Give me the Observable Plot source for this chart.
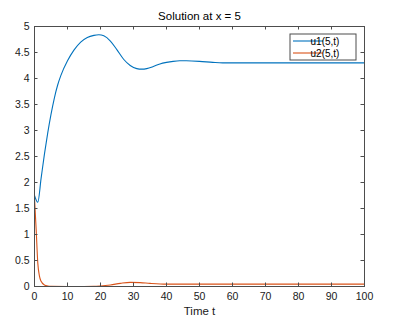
<!DOCTYPE html>
<html>
<head>
<meta charset="utf-8">
<script src="https://cdn.jsdelivr.net/npm/d3@7"></script>
<script src="https://cdn.jsdelivr.net/npm/@observablehq/plot@0.6"></script>
<style>
  html, body { margin: 0; padding: 0; background: #fff; }
  #chart { position: relative; width: 403px; height: 326px; }
</style>
</head>
<body>
<div id="chart"></div>
<script>
const tU1 = [0, 1, 2, 3, 4, 5, 6, 7, 8, 10, 12, 14, 16, 18, 19.5, 21, 23, 25, 27, 29, 31, 32.5, 34, 36, 38, 40, 42, 44, 46, 50, 54, 57, 60, 70, 80, 90, 100];
const u1 = [1.75, 1.62, 2.08, 2.54, 2.95, 3.31, 3.62, 3.87, 4.06, 4.34, 4.55, 4.7, 4.79, 4.83, 4.84, 4.82, 4.72, 4.55, 4.37, 4.25, 4.19, 4.18, 4.19, 4.23, 4.28, 4.31, 4.33, 4.34, 4.34, 4.33, 4.31, 4.3, 4.3, 4.3, 4.3, 4.3, 4.3];
const tU2 = [0, 0.5, 1, 1.5, 2, 3, 4, 5, 10, 15, 18, 20, 23, 26, 29, 32, 35, 40, 45, 50, 60, 70, 80, 90, 100];
const u2 = [1.7, 1.1, 0.45, 0.2, 0.1, 0.03, 0.01, 0.002, 0, 0, 0.002, 0.01, 0.03, 0.06, 0.08, 0.075, 0.06, 0.045, 0.045, 0.045, 0.045, 0.045, 0.045, 0.045, 0.045];
const xTicks = [0, 10, 20, 30, 40, 50, 60, 70, 80, 90, 100];
const yTicks = [0, 0.5, 1, 1.5, 2, 2.5, 3, 3.5, 4, 4.5, 5];
const seriesNames = ["u1(5,t)", "u2(5,t)"];
const colors = ["#0072BD", "#D95319"];
const titleText = "Solution at x = 5";
const xLabel = "Time t";

const W = 403, H = 326;
const mL = 34, mR = 39, mT = 26, mB = 40;
const innerW = W - mL - mR, innerH = H - mT - mB;
const tick = 3.5;
const axisColor = "#4d4d4d";

const d1 = tU1.map((t, i) => ({t, v: u1[i], s: seriesNames[0]}));
const d2 = tU2.map((t, i) => ({t, v: u2[i], s: seriesNames[1]}));

const plot = Plot.plot({
  width: W, height: H,
  marginLeft: mL, marginRight: mR, marginTop: mT, marginBottom: mB,
  style: {fontFamily: "Liberation Sans, Arial, sans-serif", fontSize: "10.5px", color: "#1a1a1a", background: "#fff"},
  x: {domain: [0, 100]},
  y: {domain: [0, 5]},
  marks: [
    Plot.line(d1, {x: "t", y: "v", stroke: colors[0], strokeWidth: 1.1, curve: "monotone-x"}),
    Plot.line(d2, {x: "t", y: "v", stroke: colors[1], strokeWidth: 1.1, curve: "monotone-x"}),
    Plot.ruleX(xTicks, {x: d => d, insetTop: innerH - tick, stroke: axisColor}),
    Plot.ruleX(xTicks, {x: d => d, insetBottom: innerH - tick, stroke: axisColor}),
    Plot.ruleY(yTicks, {y: d => d, insetRight: innerW - tick, stroke: axisColor}),
    Plot.ruleY(yTicks, {y: d => d, insetLeft: innerW - tick, stroke: axisColor}),
    Plot.frame({stroke: axisColor}),
    Plot.axisX(xTicks, {tickSize: 0, tickPadding: 6, label: null, fill: "#1a1a1a"}),
    Plot.axisY(yTicks, {tickSize: 0, tickPadding: 5, label: null, tickFormat: d => String(d), fill: "#1a1a1a"}),
    Plot.text([xLabel], {frameAnchor: "bottom", dy: 25, fontSize: 11.5, fill: "#1a1a1a", lineAnchor: "middle"}),
    Plot.text([titleText], {frameAnchor: "top", dy: -10, fontSize: 11.5, fill: "#000", lineAnchor: "middle"})
  ]
});

// legend inside the axes, top-right corner
const svg = d3.select(plot);
const lg = svg.append("g")
  .attr("transform", `translate(${mL + innerW - 74},${mT + 8})`)
  .attr("font-family", "Liberation Sans, Arial, sans-serif")
  .attr("font-size", 10);
lg.append("rect").attr("x", 0).attr("y", 0).attr("width", 66).attr("height", 26)
  .attr("fill", "#fff").attr("stroke", axisColor).attr("stroke-width", 1);
seriesNames.forEach((n, i) => {
  const y = 7 + i * 12;
  lg.append("line").attr("x1", 3).attr("x2", 33).attr("y1", y).attr("y2", y)
    .attr("stroke", colors[i]).attr("stroke-width", 1.1);
  lg.append("text").attr("x", 35).attr("y", y).attr("dy", "0.35em")
    .attr("fill", "#000").text(n);
});

document.getElementById("chart").appendChild(plot);
</script>
</body>
</html>
